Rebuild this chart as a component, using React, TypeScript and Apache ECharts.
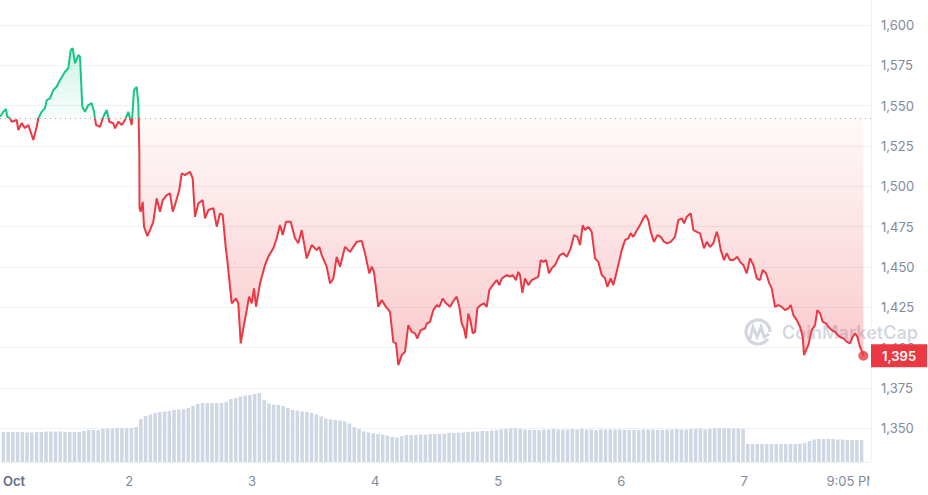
import React, { useEffect, useRef } from 'react';
import * as echarts from 'echarts';

// Hours since Oct 1 00:00
const timeHours = [
  -0.86, -0.21, 0.31, 0.56, 1.09, 1.42, 2.39, 2.71, 3.37, 4.01, 4.65, 5.63, 6.29, 6.6, 7.26, 7.91, 8.24, 8.88, 9.52, 10.18,
  10.83, 11.8, 12.44, 12.91, 13.3, 13.75, 14.39, 14.72, 15.17, 15.69, 16.34, 17.0, 17.45, 17.84, 18.61, 19.26, 19.92, 20.43, 21.2, 21.54,
  22.18, 22.84, 23.48, 24.12, 24.79, 25.23, 25.76, 26.07, 26.27, 26.31, 26.54, 26.93, 27.18, 27.82, 28.35, 28.99, 29.65, 30.3, 30.82, 31.6,
  32.24, 32.77, 33.22, 34.05, 34.52, 35.16, 36.14, 36.66, 37.11, 37.75, 38.61, 39.06, 39.7, 40.68, 41.34, 41.98, 42.5, 43.15, 43.4, 44.26,
  45.1, 45.54, 46.01, 46.52, 47.18, 47.63, 48.15, 48.6, 48.99, 49.77, 50.74, 51.38, 52.36, 53.02, 53.66, 54.19, 54.83, 55.75, 56.58, 57.23,
  57.89, 58.86, 59.83, 60.81, 61.31, 61.78, 62.75, 63.4, 64.04, 64.7, 65.35, 66.32, 67.29, 68.6, 69.57, 70.21, 71.05, 71.52, 71.96, 72.8,
  73.46, 74.3, 75.08, 75.72, 76.25, 76.7, 77.36, 78.0, 78.64, 79.3, 79.95, 80.4, 81.06, 81.9, 82.23, 82.87, 83.51, 84.17, 84.68, 85.34,
  85.98, 86.76, 87.54, 88.07, 88.57, 89.04, 89.49, 89.88, 90.32, 90.79, 91.18, 91.63, 92.08, 92.74, 93.38, 93.91, 94.41, 95.08, 95.85, 96.36,
  96.83, 97.8, 98.45, 98.97, 99.62, 100.06, 100.39, 100.84, 101.37, 102.01, 102.67, 103.32, 103.96, 104.43, 104.93, 105.46, 106.04, 106.57, 107.21, 107.66,
  108.18, 108.83, 109.49, 110.27, 110.91, 111.55, 112.08, 112.6, 113.05, 113.69, 114.35, 115.0, 115.64, 116.3, 116.94, 117.39, 118.05, 118.56, 119.22, 120.2,
  120.84, 121.48, 121.95, 122.46, 122.98, 123.76, 124.4, 124.87, 125.37, 125.84, 126.48, 127.13, 127.79, 128.43, 129.07, 129.74, 130.57, 131.22, 131.88, 132.33,
  132.85, 133.63, 134.14, 134.8, 135.44, 136.22, 136.75, 137.39, 138.03, 138.69, 139.01, 139.47, 140.12, 140.64, 141.29, 141.93, 142.71, 143.23, 143.88, 144.54,
  145.18, 145.82, 146.48, 147.12, 147.65, 148.29, 148.93, 149.4, 150.04, 150.69, 151.35, 151.99, 152.63, 153.1, 153.61, 154.27, 154.91, 155.44, 155.69, 156.08,
  156.53, 157.19, 157.83, 158.28, 158.81, 159.33, 159.98, 160.43, 161.09, 161.73, 162.57, 163.35, 164.01, 164.65, 165.18, 165.62, 166.07, 166.59, 167.12, 167.24,
];

const prices = [
  1543.1, 1546.2, 1547.9, 1543.1, 1542.3, 1540.0, 1541.1, 1534.9, 1539.2, 1536.1, 1538.0, 1528.7, 1536.9, 1542.2, 1546.2, 1548.5, 1553.5, 1554.5, 1559.7, 1561.7,
  1565.9, 1571.0, 1573.2, 1584.5, 1585.6, 1576.3, 1581.4, 1580.3, 1549.3, 1546.2, 1550.4, 1551.5, 1546.2, 1538.0, 1536.9, 1543.1, 1547.3, 1540.0, 1539.1, 1535.9,
  1540.0, 1538.0, 1541.1, 1546.2, 1538.0, 1559.7, 1561.7, 1551.5, 1522.5, 1486.4, 1484.3, 1490.4, 1475.0, 1469.2, 1472.9, 1478.0, 1492.6, 1484.3, 1491.5, 1494.6,
  1495.7, 1484.3, 1488.4, 1497.7, 1508.0, 1507.0, 1509.0, 1504.9, 1481.1, 1489.4, 1491.5, 1480.2, 1485.3, 1486.4, 1475.0, 1483.3, 1482.2, 1460.5, 1454.3, 1427.5,
  1430.5, 1427.5, 1402.7, 1412.0, 1423.3, 1431.6, 1427.5, 1436.8, 1425.4, 1439.9, 1451.2, 1456.4, 1461.6, 1467.8, 1476.0, 1469.8, 1478.0, 1478.0, 1467.8, 1464.7,
  1472.9, 1455.3, 1463.6, 1460.5, 1462.5, 1457.4, 1450.2, 1439.9, 1442.9, 1456.3, 1450.2, 1462.5, 1459.4, 1465.6, 1466.2, 1458.5, 1446.0, 1450.2, 1447.0, 1425.3,
  1429.5, 1425.3, 1422.2, 1403.6, 1402.7, 1389.2, 1395.4, 1397.4, 1414.0, 1409.8, 1408.9, 1405.7, 1410.9, 1411.9, 1415.0, 1416.0, 1423.3, 1426.4, 1425.3, 1430.5,
  1427.5, 1425.3, 1429.5, 1431.6, 1425.3, 1415.0, 1411.9, 1405.7, 1421.2, 1416.0, 1408.9, 1409.8, 1424.4, 1426.4, 1427.5, 1425.3, 1435.7, 1438.8, 1441.9, 1438.8,
  1442.9, 1445.0, 1444.0, 1445.0, 1441.9, 1447.0, 1445.0, 1434.0, 1442.9, 1438.8, 1441.9, 1442.9, 1443.9, 1454.3, 1453.2, 1454.3, 1446.1, 1449.2, 1451.2, 1454.3,
  1457.4, 1458.5, 1456.3, 1461.6, 1469.8, 1468.7, 1463.6, 1476.0, 1472.9, 1474.9, 1471.8, 1455.4, 1453.2, 1445.0, 1443.0, 1437.7, 1443.0, 1438.8, 1447.0, 1460.5,
  1466.7, 1467.8, 1470.9, 1468.7, 1471.8, 1476.0, 1480.2, 1482.2, 1479.1, 1471.8, 1465.6, 1469.8, 1468.7, 1465.6, 1464.7, 1465.6, 1468.7, 1479.1, 1480.2, 1477.1,
  1481.1, 1483.3, 1472.9, 1471.8, 1470.9, 1461.6, 1465.6, 1462.5, 1464.7, 1471.8, 1468.7, 1460.5, 1454.3, 1458.5, 1454.3, 1454.3, 1456.3, 1453.2, 1451.2, 1446.1,
  1455.4, 1451.2, 1443.0, 1441.9, 1448.1, 1446.1, 1439.9, 1436.8, 1425.3, 1426.4, 1425.3, 1423.3, 1424.4, 1426.4, 1420.2, 1417.1, 1413.0, 1406.8, 1395.4, 1398.5,
  1401.6, 1410.9, 1414.0, 1423.3, 1421.3, 1416.0, 1415.1, 1413.0, 1410.9, 1409.8, 1406.8, 1405.8, 1403.6, 1402.7, 1406.8, 1408.9, 1406.8, 1400.5, 1396.5, 1395.0,
];

const baselinePrice = 1542.2;

// Volume bars (relative units), one bar every volumeStepHour from volumeStartHour
const volumeStartHour = -0.53;
const volumeStepHour = 0.925;
const volumes = [
  30, 30, 30, 30, 30, 29.5, 29.5, 30, 30, 30.5,
  30.5, 30.5, 30.5, 30, 30, 30, 30, 31, 32, 32,
  32, 33.5, 33.5, 33.5, 34, 34, 34, 34, 35, 43,
  46, 47.5, 49, 50, 50.5, 51, 52, 52.5, 53, 54,
  56, 58, 59, 59, 59, 59, 59, 60, 63, 64,
  65.5, 66.5, 67, 68, 69, 62, 58.5, 57.5, 57, 56,
  54, 52, 51.3, 50.5, 50, 49, 47.5, 45.5, 43.5, 42.5,
  42, 41.5, 40.5, 38.5, 35, 33, 30.5, 29.5, 28.7, 28,
  27.5, 26.5, 25, 24.5, 26, 27, 27, 27, 27.5, 27.5,
  28, 28, 28, 28.3, 29, 29, 29.3, 29.5, 30, 30.3,
  30.5, 31, 31, 31.5, 32, 32.5, 33, 33.5, 33.7, 33,
  32.5, 32, 32, 32, 32.5, 32.5, 33, 32.5, 32.5, 32.5,
  33, 32.5, 33, 32.5, 32.5, 32, 32.5, 32.5, 32.5, 32.5,
  32.5, 32, 32, 32, 32, 32.5, 32.5, 32.5, 32, 32,
  32.5, 32.5, 33, 32.5, 32.5, 33, 33, 33.5, 32.5, 33,
  33.5, 34, 34, 33.5, 33.5, 33.5, 33, 18, 18, 18,
  18, 18, 18, 18, 18, 18, 18, 18, 18.5, 19,
  21, 22.5, 23, 23, 23, 23, 22.5, 22.5, 22, 22, 22, 22,
];

const xTickHours = [0, 24, 48, 72, 96, 120, 144, 165.08];
const xTickLabels = ['Oct', '2', '3', '4', '5', '6', '7', '9:05 PM'];
const xMin = -0.857;
const xMax = 168.73;
const yMin = 1325;
const yMax = 1600;
const yStep = 25;

const GREEN = '#16c784';
const RED = '#ea3943';
const LABEL = '#808a9d';
const GRIDLINE = '#eff2f5';

const fmt = (v: number) => Math.round(v).toLocaleString('en-US');

export default function App() {
  const ref = useRef<HTMLDivElement>(null);

  useEffect(() => {
    if (!ref.current) return;
    const chart = echarts.init(ref.current, null, { renderer: 'svg' });
    const priceData = timeHours.map((t, i) => [t, prices[i]]);
    const volumeData = volumes.map((v, i) => [volumeStartHour + i * volumeStepHour, v]);
    const last = priceData[priceData.length - 1];

    const areaGradient = new echarts.graphic.LinearGradient(
      0, 25, 0, 468,
      [
        { offset: 0, color: 'rgba(22,199,132,0.28)' },
        { offset: 0.21, color: 'rgba(22,199,132,0.03)' },
        { offset: 0.2106, color: 'rgba(234,57,67,0.03)' },
        { offset: 0.76, color: 'rgba(234,57,67,0.27)' },
        { offset: 1, color: 'rgba(234,57,67,0.3)' },
      ],
      true
    );

    const labelFormatter = (v: number) => {
      let idx = 0;
      let best = Infinity;
      xTickHours.forEach((h, i) => {
        const d = Math.abs(h - v);
        if (d < best) { best = d; idx = i; }
      });
      const label = xTickLabels[idx];
      return idx === 0 ? `{month|${label}}` : label;
    };

    const option: any = {
      animation: false,
      textStyle: { fontFamily: 'Inter, "Noto Sans", sans-serif' },
      grid: [
        { left: 0, right: 57, top: 25, bottom: 26.3 },
        { left: 0, right: 57, bottom: 33, height: 100 },
      ],
      xAxis: [
        { type: 'value', gridIndex: 0, min: xMin, max: xMax, show: false },
        {
          type: 'value',
          gridIndex: 1,
          min: xMin,
          max: xMax,
          splitLine: { show: false },
          axisLine: { show: true, lineStyle: { color: GRIDLINE } },
          axisTick: {
            show: true,
            customValues: xTickHours,
            length: 0,
            lineStyle: { color: 'rgba(0,0,0,0)' },
          },
          axisLabel: {
            customValues: xTickHours,
            margin: 12,
            color: LABEL,
            fontSize: 13,
            formatter: labelFormatter,
            rich: {
              month: { fontWeight: 600, color: '#616e85', fontSize: 13, padding: [0, 0, 0, 16] },
            },
          },
        },
      ],
      yAxis: [
        {
          type: 'value',
          gridIndex: 0,
          position: 'right',
          min: yMin,
          max: yMax,
          interval: yStep,
          axisLine: { show: false },
          axisTick: { show: false },
          splitLine: { lineStyle: { color: GRIDLINE, width: 1 }, showMinLine: false },
          axisLabel: { showMinLabel: false, margin: 10, color: LABEL, fontSize: 13, formatter: fmt },
        },
        { type: 'value', gridIndex: 1, min: 0, max: 100, show: false },
      ],
      visualMap: {
        type: 'piecewise',
        show: false,
        seriesIndex: 0,
        dimension: 1,
        pieces: [
          { gt: 1000, lte: baselinePrice, color: RED },
          { gt: baselinePrice, lte: 2000, color: GREEN },
        ],
      },
      graphic: [
        {
          type: 'group',
          z: 1,
          children: [
            {
              type: 'arc',
              shape: { cx: 758, cy: 332, r: 12, startAngle: 0.6, endAngle: Math.PI * 2 },
              style: { stroke: 'rgba(128,138,170,0.35)', lineWidth: 3.2, fill: 'none' },
            },
            {
              type: 'polyline',
              shape: { points: [[750, 339], [753, 327], [757, 337], [761, 327], [764, 337], [769, 334]] },
              style: { stroke: 'rgba(128,138,170,0.35)', lineWidth: 3, fill: 'none' },
            },
            {
              type: 'text',
              x: 782,
              y: 332,
              style: {
                text: 'CoinMarketCap',
                fontSize: 18,
                fontWeight: 600,
                fontFamily: 'Inter',
                fill: 'rgba(128,138,170,0.35)',
                verticalAlign: 'middle',
                align: 'left',
              },
            },
          ],
        },
        {
          type: 'line',
          z: 5,
          shape: { x1: 871.5, y1: 0, x2: 871.5, y2: 462 },
          style: { stroke: GRIDLINE, lineWidth: 1 },
        },
        {
          type: 'rect',
          z: 100,
          shape: { x: 869.5, y: 463, width: 59, height: 32 },
          style: { fill: '#ffffff' },
        },
      ],
      series: [
        {
          type: 'line',
          xAxisIndex: 0,
          yAxisIndex: 0,
          data: priceData,
          showSymbol: false,
          z: 3,
          lineStyle: { width: 2 },
          areaStyle: { origin: baselinePrice, color: areaGradient, opacity: 1 },
          markLine: {
            silent: true,
            symbol: ['none', 'none'],
            animation: false,
            data: [
              {
                yAxis: baselinePrice,
                lineStyle: { color: '#a1a7bb', type: [1, 4], width: 1 },
                label: { show: false },
              },
              {
                yAxis: last[1],
                lineStyle: { width: 0, color: 'rgba(0,0,0,0)' },
                label: {
                  show: true,
                  position: 'end',
                  distance: 0,
                  formatter: () => fmt(last[1]),
                  backgroundColor: RED,
                  color: '#ffffff',
                  fontSize: 13,
                  fontWeight: 600,
                  padding: [5, 11, 5, 11],
                },
              },
            ],
          },
        },
        {
          type: 'scatter',
          xAxisIndex: 0,
          yAxisIndex: 0,
          data: [last],
          symbolSize: 10,
          z: 4,
          itemStyle: { color: RED },
        },
        {
          type: 'bar',
          xAxisIndex: 1,
          yAxisIndex: 1,
          data: volumeData,
          barWidth: 3.5,
          itemStyle: { color: '#cfd6e4' },
        },
      ],
    };

    chart.setOption(option);
    return () => chart.dispose();
  }, []);

  return (
    <div
      ref={ref}
      style={{ position: 'fixed', left: 0, top: 0, width: 928, height: 495, background: '#fff' }}
    />
  );
}
